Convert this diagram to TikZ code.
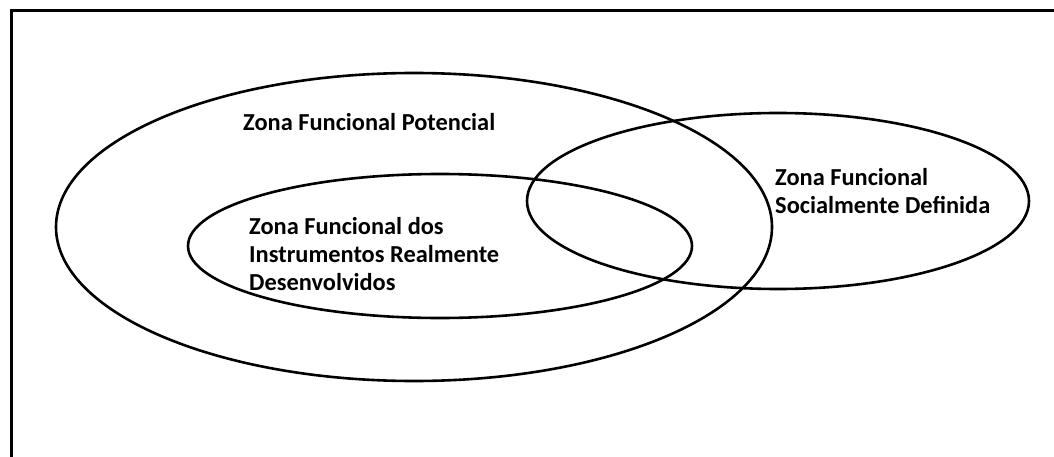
\documentclass[tikz,border=0pt]{standalone}
\usepackage{fontspec}
\setmainfont{Carlito}
\usetikzlibrary{shapes.geometric}

\begin{document}
\begin{tikzpicture}[x=1pt,y=-1pt,
  zona/.style={draw,ellipse,line width=2.6pt,inner sep=0pt},
  rotulo/.style={anchor=base west,align=left,inner sep=0pt,
    font=\fontsize{24.4}{28}\selectfont\bfseries}]
  \useasboundingbox (0,0) rectangle (1054,457);

  % frame, only top and left edges show
  \draw[line width=3pt] (1054,11) -- (11,11) -- (11,457);

  \node[zona,minimum width=716pt,minimum height=308pt] (pot) at (414,227) {};
  \node[zona,minimum width=504pt,minimum height=144pt] (inst) at (440,246) {};
  \node[zona,minimum width=502pt,minimum height=176pt] (soc) at (778,201) {};

  % labels (base = last line)
  \node[rotulo] (potl) at (243,131) {Zona Funcional Potencial};
  \node[rotulo] (instl) at (249,290) {Zona Funcional dos\\Instrumentos Realmente\\Desenvolvidos};
  \node[rotulo] (socl) at (775,213) {Zona Funcional\\Socialmente Definida};

\end{tikzpicture}
\end{document}
